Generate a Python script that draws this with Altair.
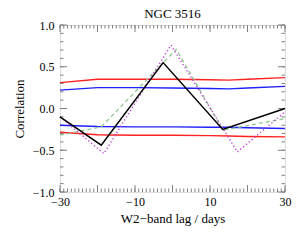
import altair as alt
import pandas as pd

# Data
title_text = ["NGC 3516"]

black_lag = [-30, -19, -2.5, 13.4, 30]
black_val = [-0.10, -0.44, 0.55, -0.25, 0.0]

mag_lag = [-30, -18.3, -0.4, 17.3, 30]
mag_val = [-0.10, -0.54, 0.76, -0.52, -0.04]

green_lag = [-30, -19, 1, 13.5, 30]
green_val = [-0.32, -0.22, 0.71, -0.26, -0.12]

band_lag = [-30, -20, -10, 0, 10, 15, 20, 30]
red_up = [0.31, 0.35, 0.35, 0.35, 0.345, 0.34, 0.35, 0.37]
blue_up = [0.22, 0.25, 0.25, 0.245, 0.24, 0.235, 0.245, 0.265]
blue_lo = [-0.20, -0.215, -0.22, -0.22, -0.225, -0.225, -0.23, -0.24]
red_lo = [-0.285, -0.315, -0.32, -0.32, -0.325, -0.33, -0.335, -0.34]

x_major = [-30, -20, -10, 0, 10, 20, 30]
x_minor = list(range(-30, 31))
y_major = [-1.0, -0.5, 0.0, 0.5, 1.0]
y_minor = [round(-1 + 0.1 * i, 1) for i in range(21)]

W, H = 225, 167
FONT = "Liberation Serif, Times New Roman, Times, serif"
FRAME = "#808080"

xs = alt.Scale(domain=[-30, 30], nice=False)
ys = alt.Scale(domain=[-1, 1], nice=False)


def line(lags, vals, color, dash=None, width=1.4):
    df = pd.DataFrame({"lag": lags, "r": vals})
    kw = dict(color=color, strokeWidth=width)
    if dash:
        kw["strokeDash"] = dash
    return alt.Chart(df).mark_line(**kw).encode(
        x=alt.X("lag:Q", scale=xs),
        y=alt.Y("r:Q", scale=ys),
    )


base_axes = alt.Chart(pd.DataFrame({"lag": [-30, 30], "r": [-1, 1]})).mark_point(opacity=0, size=1).encode(
    x=alt.X("lag:Q", scale=xs, title="W2\u2212band lag / days",
            axis=alt.Axis(values=x_major, ticks=False, domain=False, grid=False,
                          labelExpr="replace(format(datum.value, 'd'), '-', '\u2212')",
                          labelFont=FONT, labelFontSize=12, labelColor="black",
                          labelPadding=4, titleFont=FONT, titleFontSize=13,
                          titleFontWeight="normal", titleColor="black", titlePadding=5,
                          labelFlush=False)),
    y=alt.Y("r:Q", scale=ys, title="Correlation",
            axis=alt.Axis(values=y_major, ticks=False, domain=False, grid=False,
                          labelExpr="replace(format(datum.value, '.1f'), '-', '\u2212')",
                          labelFont=FONT, labelFontSize=12, labelColor="black",
                          labelPadding=6, titleFont=FONT, titleFontSize=13,
                          titleFontWeight="normal", titleColor="black", titlePadding=6,
                          labelFlush=False)),
)


def xticks(vals, length):
    df = pd.DataFrame({"t": vals})
    bottom = alt.Chart(df).mark_rule(color=FRAME, strokeWidth=1).encode(
        x=alt.X("t:Q", scale=xs), y=alt.value(H), y2=alt.value(H - length))
    top = alt.Chart(df).mark_rule(color=FRAME, strokeWidth=1).encode(
        x=alt.X("t:Q", scale=xs), y=alt.value(0), y2=alt.value(length))
    return [bottom, top]


def yticks(vals, length):
    df = pd.DataFrame({"t": vals})
    left = alt.Chart(df).mark_rule(color=FRAME, strokeWidth=1).encode(
        y=alt.Y("t:Q", scale=ys), x=alt.value(0), x2=alt.value(length))
    right = alt.Chart(df).mark_rule(color=FRAME, strokeWidth=1).encode(
        y=alt.Y("t:Q", scale=ys), x=alt.value(W), x2=alt.value(W - length))
    return [left, right]


title_layer = alt.Chart(pd.DataFrame({"t": title_text})).mark_text(
    font=FONT, fontSize=13, color="black", align="center", baseline="alphabetic"
).encode(text="t:N", x=alt.value(W / 2), y=alt.value(-7))

layers = [base_axes]
layers += xticks(x_minor, 3.5) + xticks(x_major, 7)
layers += yticks(y_minor, 3.5) + yticks(y_major, 7)
layers += [
    line(band_lag, red_up, "#ff2020"),
    line(band_lag, blue_up, "#2020ff"),
    line(band_lag, blue_lo, "#2020ff"),
    line(band_lag, red_lo, "#ff2020"),
    line(green_lag, green_val, "#90c890", dash=[4, 3], width=1.3),
    line(mag_lag, mag_val, "#c040d0", dash=[1.2, 2.5], width=1.5),
    line(black_lag, black_val, "black", width=1.5),
    title_layer,
]

chart = alt.layer(*layers).properties(
    width=W, height=H,
    autosize=alt.AutoSizeParams(type="none"),
    padding={"left": 52, "top": 17, "right": 7, "bottom": 40},
).configure_view(stroke=FRAME, strokeWidth=1.2).configure(background="white")

chart.save("out.html", embed_options={"renderer": "svg", "actions": False})
